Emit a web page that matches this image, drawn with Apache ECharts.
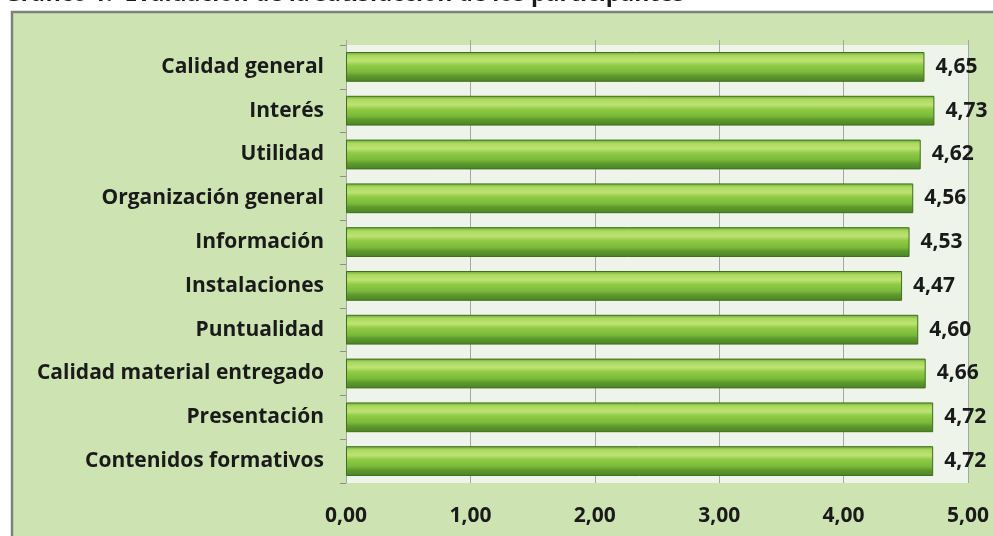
<!DOCTYPE html>
<html>
<head>
<meta charset="utf-8">
<title>Gráfico 1</title>
<script src="https://cdn.jsdelivr.net/npm/echarts@6/dist/echarts.min.js"></script>
<style>
  html, body { margin: 0; padding: 0; background: #ffffff; }
  #myEcharts { width: 993px; height: 536px; }
</style>
</head>
<body>
<div id="myEcharts"></div>
<script>
// categorias y valores
var categorias = ['Calidad general', 'Interés', 'Utilidad', 'Organización general', 'Información',
  'Instalaciones', 'Puntualidad', 'Calidad material entregado', 'Presentación', 'Contenidos formativos'];
var valores = [4.65, 4.73, 4.62, 4.56, 4.53, 4.47, 4.60, 4.66, 4.72, 4.72];
var ticksX = [0, 1, 2, 3, 4, 5];

var fuente = '"Open Sans", Lato, sans-serif';

function coma(v) {
  return Number(v).toFixed(2).replace('.', ',');
}

var myChart = echarts.init(document.getElementById('myEcharts'));

myChart.setOption({
  backgroundColor: '#ffffff',
  animation: false,
  title: {
    text: 'Gráfico 1.  Evaluación de la satisfacción de los participantes',
    left: -1,
    top: -22,
    textStyle: { fontFamily: fuente, fontSize: 23, fontWeight: 'bold', color: '#1a1a1a' }
  },
  graphic: [
    {
      type: 'rect',
      z: -10,
      shape: { x: 12, y: 12, width: 1000, height: 600 },
      style: { fill: '#cde4b2', stroke: '#808080', lineWidth: 2.5 }
    }
  ],
  grid: {
    left: 346,
    right: 25,
    top: 45,
    bottom: 53,
    show: true,
    backgroundColor: '#eef4e9',
    borderWidth: 0
  },
  xAxis: [
    {
      type: 'value',
      min: ticksX[0],
      max: ticksX[ticksX.length - 1],
      interval: 1,
      position: 'bottom',
      axisLine: { show: false },
      axisTick: { show: false },
      splitLine: { show: true, lineStyle: { color: '#a6a6a6', width: 1 } },
      axisLabel: {
        margin: 23,
        formatter: coma,
        fontFamily: fuente, fontSize: 21, fontWeight: 'bold', color: '#1a1a1a'
      }
    },
    {
      type: 'value',
      min: ticksX[0],
      max: ticksX[ticksX.length - 1],
      interval: 1,
      position: 'top',
      axisLine: { show: false },
      axisTick: { show: true, length: 5, lineStyle: { color: '#a6a6a6' } },
      splitLine: { show: false },
      axisLabel: { show: false }
    }
  ],
  yAxis: {
    type: 'category',
    inverse: true,
    data: categorias,
    axisLine: { show: true, lineStyle: { color: '#a6a6a6', width: 1 } },
    axisTick: { show: true, length: 6, lineStyle: { color: '#8c8c8c' } },
    axisLabel: {
      margin: 22,
      fontFamily: fuente, fontSize: 21, fontWeight: 'bold', color: '#1a1a1a'
    }
  },
  series: [
    {
      name: 'Satisfacción',
      type: 'bar',
      data: valores,
      barCategoryGap: '32%',
      itemStyle: {
        borderColor: '#3f6e1e',
        borderWidth: 1,
        color: new echarts.graphic.LinearGradient(0, 0, 0, 1, [
          { offset: 0, color: '#6aa433' },
          { offset: 0.12, color: '#a9d95e' },
          { offset: 0.3, color: '#bfe274' },
          { offset: 0.45, color: '#8fcb45' },
          { offset: 0.68, color: '#7ab93a' },
          { offset: 0.8, color: '#5d9a2d' },
          { offset: 1, color: '#4c8224' }
        ])
      },
      label: {
        show: true,
        position: 'right',
        distance: 11,
        formatter: function (p) { return coma(p.value); },
        fontFamily: fuente, fontSize: 21, fontWeight: 'bold', color: '#1a1a1a'
      }
    }
  ]
});
</script>
</body>
</html>
